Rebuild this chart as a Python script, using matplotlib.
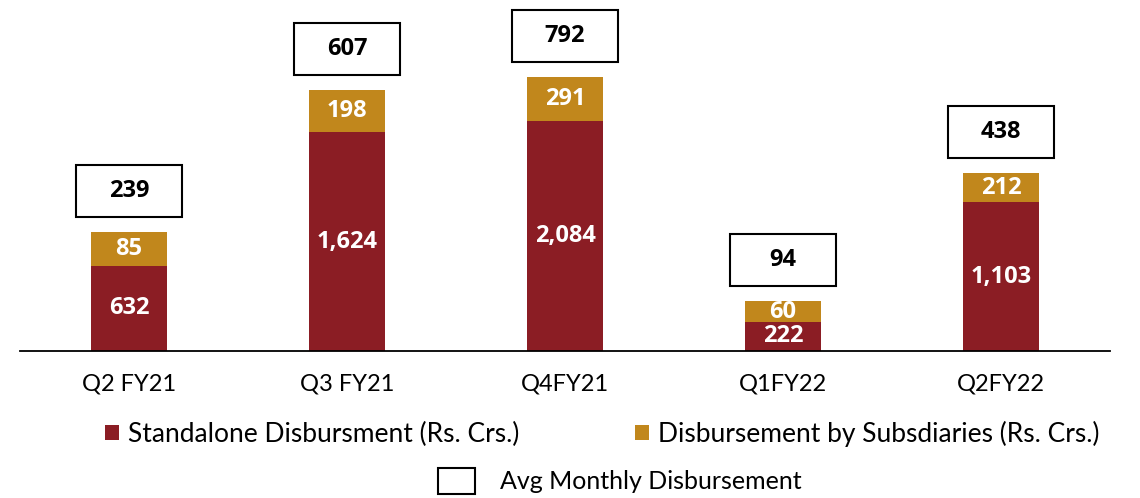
import numpy as np
import matplotlib
matplotlib.use("Agg")
from matplotlib import pyplot as plt
from matplotlib.patches import Rectangle, Patch

quarters = ["Q2 FY21", "Q3 FY21", "Q4FY21", "Q1FY22", "Q2FY22"]
standalone_labels = ["632", "1,624", "2,084", "222", "1,103"]
subsidiary_labels = ["85", "198", "291", "60", "212"]
avg_monthly_labels = ["239", "607", "792", "94", "438"]

# segment heights as drawn on the original slide (not to scale with the numbers)
standalone_h = [85, 219, 230, 29, 149]
subsidiary_h = [34, 42, 44, 21, 29]

RED = "#8B1D24"
GOLD = "#C1871C"
BOLD_FONT = ["Open Sans", "DejaVu Sans"]

plt.rcParams["font.family"] = ["Lato", "DejaVu Sans"]

fig = plt.figure(figsize=(11.4, 4.98), dpi=100)
ax = fig.add_axes([20 / 1140, 147 / 498, 1090 / 1140, 351 / 498])

x = np.arange(len(quarters))
w = 0.353
b1 = ax.bar(x, standalone_h, w, color=RED, label="Standalone Disbursment (Rs. Crs.)")
b2 = ax.bar(x, subsidiary_h, w, bottom=standalone_h, color=GOLD,
            label="Disbursement by Subsdiaries (Rs. Crs.)")

ax.bar_label(b1, labels=standalone_labels, label_type="center", color="white",
             fontweight="bold", fontsize=17, family=BOLD_FONT)
ax.bar_label(b2, labels=subsidiary_labels, label_type="center", color="white",
             fontweight="bold", fontsize=17, family=BOLD_FONT)

# avg monthly boxes above each stack
bw = 0.486
bh = 52
gap = 15
for i in range(len(quarters)):
    top = standalone_h[i] + subsidiary_h[i] + gap
    ax.add_patch(Rectangle((i - bw / 2, top), bw, bh, facecolor="white",
                           edgecolor="black", lw=1.5, clip_on=False))
    ax.text(i, top + bh / 2, avg_monthly_labels[i], ha="center", va="center",
            fontsize=17, fontweight="bold", color="black", family=BOLD_FONT)

ax.set_xlim(-0.5, 4.5)
ax.set_ylim(0, 351)
for s in ["top", "left", "right"]:
    ax.spines[s].set_visible(False)
ax.spines["bottom"].set_linewidth(1.3)
ax.set_yticks([])
ax.set_xticks(x)
ax.set_xticklabels(quarters, fontsize=17)
ax.tick_params(axis="x", length=0, pad=16)

fig.legend(handles=[b1, b2], loc="center", bbox_to_anchor=(602 / 1140, 1 - 434 / 498),
           ncol=2, frameon=False, fontsize=19, handlelength=0.53, handleheight=0.53,
           handletextpad=0.34, columnspacing=4.4)
box_handle = Patch(facecolor="white", edgecolor="black", lw=1.5, label="Avg Monthly Disbursement")
fig.legend(handles=[box_handle], loc="center", bbox_to_anchor=(620 / 1140, 1 - 481 / 498),
           frameon=False, fontsize=18, handlelength=1.5, handleheight=1.2,
           handletextpad=1.0)

fig.savefig("out.png", dpi=100)
